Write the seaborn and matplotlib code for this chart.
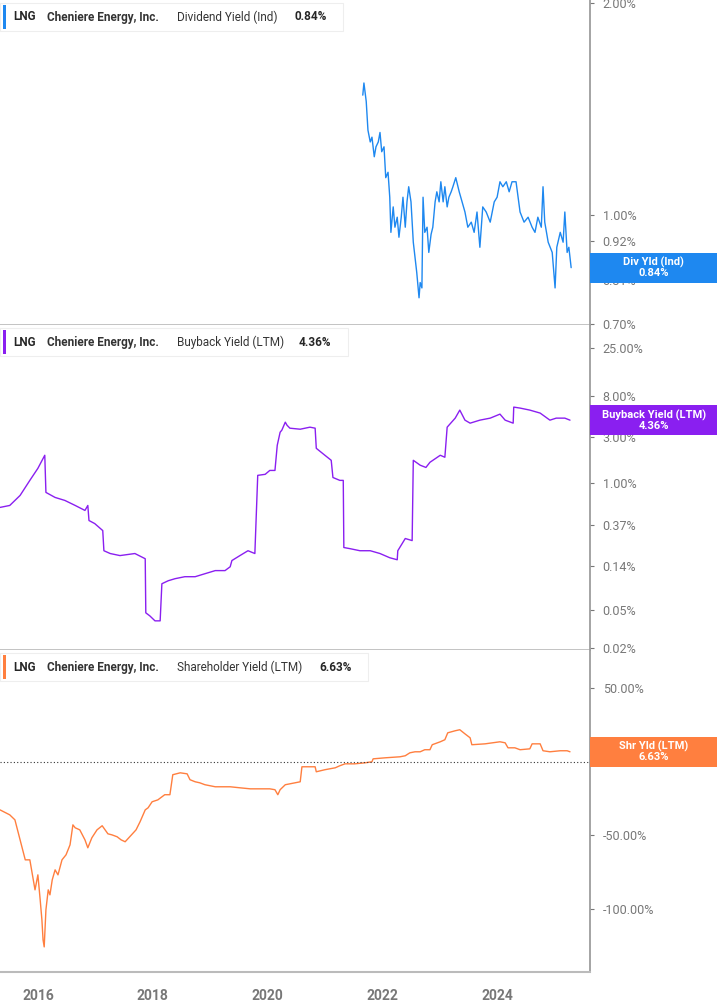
import numpy as np
import pandas as pd
import matplotlib
matplotlib.use("Agg")
import matplotlib.pyplot as plt
import seaborn as sns
from matplotlib.ticker import FixedLocator, NullLocator, FixedFormatter

sns.set_theme(style="white")
plt.rcParams["font.family"] = "Roboto"

# Dividend yield (indicated), % - fractional years
div_years = [2021.66, 2021.68, 2021.72, 2021.75, 2021.79, 2021.82, 2021.86, 2021.89, 2021.93, 2021.96,
             2021.99, 2022.03, 2022.06, 2022.10, 2022.13, 2022.15, 2022.19, 2022.22, 2022.26, 2022.29,
             2022.33, 2022.36, 2022.40, 2022.43, 2022.46, 2022.50, 2022.54, 2022.57, 2022.60, 2022.64,
             2022.66, 2022.69, 2022.71, 2022.74, 2022.78, 2022.81, 2022.85, 2022.88, 2022.92, 2022.95,
             2022.99, 2023.02, 2023.06, 2023.09, 2023.13, 2023.16, 2023.20, 2023.23, 2023.28, 2023.34,
             2023.39, 2023.44, 2023.49, 2023.55, 2023.60, 2023.65, 2023.70, 2023.75, 2023.81, 2023.88,
             2023.95, 2024.00, 2024.05, 2024.10, 2024.16, 2024.21, 2024.26, 2024.33, 2024.40, 2024.47,
             2024.54, 2024.61, 2024.66, 2024.71, 2024.77, 2024.80, 2024.83, 2024.89, 2024.96, 2025.01,
             2025.04, 2025.10, 2025.15, 2025.18, 2025.22, 2025.25, 2025.29]
div_vals = [1.48, 1.54, 1.45, 1.32, 1.27, 1.29, 1.21, 1.25, 1.27, 1.31,
            1.23, 1.25, 1.13, 1.15, 1.06, 0.945, 1.027, 0.961, 0.993, 0.930,
            0.993, 1.06, 0.961, 1.044, 1.097, 1.044, 0.915, 0.871, 0.829, 0.763,
            0.802, 0.788, 1.06, 0.945, 0.961, 0.885, 0.939, 0.961, 1.044, 1.079,
            1.044, 1.115, 1.044, 1.097, 1.027, 1.06, 1.079, 1.097, 1.13, 1.079,
            1.044, 1.01, 0.961, 0.977, 0.945, 1.01, 0.90, 1.027, 1.01, 0.977,
            1.044, 1.06, 1.115, 1.097, 1.115, 1.079, 1.115, 1.115, 1.01, 0.977,
            0.993, 0.961, 0.945, 0.993, 0.961, 1.097, 0.977, 0.915, 0.885, 0.788,
            0.90, 0.945, 0.915, 1.01, 0.885, 0.90, 0.842]

# Buyback yield (LTM), %
bb_years = [2015.34, 2015.51, 2015.69, 2015.86, 2016.00, 2016.12, 2016.14, 2016.30, 2016.47, 2016.65,
            2016.82, 2016.87, 2016.89, 2016.99, 2017.13, 2017.15, 2017.26, 2017.43, 2017.69, 2017.87,
            2017.88, 2017.95, 2018.04, 2018.13, 2018.16, 2018.27, 2018.39, 2018.56, 2018.74, 2018.91,
            2019.09, 2019.26, 2019.35, 2019.38, 2019.52, 2019.66, 2019.78, 2019.83, 2019.96, 2020.04,
            2020.13, 2020.17, 2020.22, 2020.25, 2020.31, 2020.34, 2020.39, 2020.57, 2020.74, 2020.83,
            2020.85, 2021.00, 2021.11, 2021.14, 2021.26, 2021.32, 2021.33, 2021.44, 2021.61, 2021.79,
            2021.96, 2022.13, 2022.26, 2022.27, 2022.40, 2022.52, 2022.54, 2022.66, 2022.76, 2022.83,
            2023.01, 2023.09, 2023.13, 2023.27, 2023.35, 2023.44, 2023.53, 2023.70, 2023.88, 2024.05,
            2024.14, 2024.28, 2024.29, 2024.40, 2024.57, 2024.75, 2024.92, 2025.03, 2025.18, 2025.27]
bb_vals = [0.565, 0.592, 0.751, 1.074, 1.43, 1.95, 0.807, 0.716, 0.667, 0.592,
           0.526, 0.592, 0.414, 0.385, 0.326, 0.202, 0.189, 0.180, 0.189, 0.167,
           0.0462, 0.0430, 0.0382, 0.0382, 0.0922, 0.099, 0.104, 0.109, 0.109, 0.117,
           0.126, 0.126, 0.138, 0.160, 0.180, 0.202, 0.189, 1.21, 1.24, 1.36,
           1.36, 2.47, 3.37, 3.54, 4.28, 3.98, 3.71, 3.62, 3.80, 3.71,
           2.30, 1.95, 1.73, 1.15, 1.074, 1.074, 0.218, 0.212, 0.202, 0.202,
           0.189, 0.171, 0.163, 0.202, 0.27, 0.257, 1.73, 1.54, 1.46, 1.65,
           1.95, 1.86, 3.80, 4.71, 5.70, 4.49, 4.18, 4.49, 4.71, 5.18,
           4.49, 4.18, 6.12, 5.98, 5.70, 5.31, 4.49, 4.71, 4.71, 4.49]

# Shareholder yield (LTM), %
sh_years = [2015.34, 2015.51, 2015.60, 2015.69, 2015.78, 2015.86, 2015.95, 2016.00, 2016.04, 2016.07,
            2016.09, 2016.11, 2016.14, 2016.18, 2016.21, 2016.25, 2016.30, 2016.35, 2016.42, 2016.49,
            2016.56, 2016.61, 2016.65, 2016.73, 2016.82, 2016.87, 2016.94, 2017.03, 2017.12, 2017.22,
            2017.29, 2017.38, 2017.45, 2017.52, 2017.60, 2017.71, 2017.78, 2017.87, 2017.92, 2017.99,
            2018.09, 2018.21, 2018.30, 2018.35, 2018.48, 2018.60, 2018.65, 2018.74, 2018.82, 2018.91,
            2019.00, 2019.09, 2019.17, 2019.35, 2019.52, 2019.70, 2019.87, 2020.04, 2020.13, 2020.18,
            2020.22, 2020.31, 2020.39, 2020.57, 2020.60, 2020.74, 2020.83, 2020.85, 2021.00, 2021.18,
            2021.26, 2021.35, 2021.52, 2021.70, 2021.82, 2021.84, 2022.05, 2022.31, 2022.40, 2022.48,
            2022.57, 2022.66, 2022.74, 2022.83, 2022.87, 2023.01, 2023.09, 2023.14, 2023.27, 2023.35,
            2023.44, 2023.53, 2023.56, 2023.79, 2024.05, 2024.14, 2024.19, 2024.31, 2024.40, 2024.57,
            2024.61, 2024.75, 2024.80, 2024.92, 2025.10, 2025.22, 2025.27]
sh_vals = [-32.7, -36.1, -39.5, -53.1, -66.7, -66.7, -87.1, -76.9, -93.9, -107.5,
           -121.1, -125.9, -100.7, -87.1, -90.5, -80.3, -73.5, -76.9, -66.7, -63.3,
           -56.5, -42.9, -44.9, -46.3, -53.1, -58.5, -51.7, -46.3, -43.5, -49.0,
           -49.7, -51.0, -53.1, -54.4, -51.0, -46.3, -40.8, -32.7, -31.3, -27.2,
           -25.9, -22.4, -22.4, -8.8, -7.5, -8.2, -12.2, -13.6, -14.3, -15.6,
           -16.3, -17.0, -17.0, -17.0, -17.7, -18.4, -18.4, -18.4, -19.0, -22.4,
           -19.0, -15.6, -15.0, -13.6, -3.4, -3.4, -3.4, -6.8, -5.4, -4.1,
           -2.7, -1.4, -1.4, -0.7, 0.0, 2.0, 2.7, 3.4, 4.1, 6.1,
           6.8, 6.8, 8.2, 8.2, 11.6, 13.6, 15.0, 19.7, 21.1, 21.8,
           19.0, 16.3, 11.6, 12.2, 13.6, 12.9, 9.5, 9.5, 8.2, 8.8,
           12.2, 12.2, 7.5, 6.8, 7.5, 7.5, 6.8]

year_ticks = [2016, 2018, 2020, 2022, 2024]
grey = "#777777"

panels = [
    dict(x=div_years, y=div_vals, color="#1e88f0", log=True, ylim=(0.698, 2.02),
         ticks=[2.0, 1.0, 0.92, 0.81, 0.70], labels=["2.00%", "1.00%", "0.92%", "0.81%", "0.70%"],
         title="Dividend Yield (Ind)", last="0.84%", badge="Div Yld (Ind)", vx=294, bx=343),
    dict(x=bb_years, y=bb_vals, color="#8a1ff0", log=True, ylim=(0.0191, 43.0),
         ticks=[25, 8, 3, 1, 0.37, 0.14, 0.05, 0.02],
         labels=["25.00%", "8.00%", "3.00%", "1.00%", "0.37%", "0.14%", "0.05%", "0.02%"],
         title="Buyback Yield (LTM)", last="4.36%", badge="Buyback Yield (LTM)", vx=299, bx=348),
    dict(x=sh_years, y=sh_vals, color="#ff7f3f", log=False, ylim=(-143, 76),
         ticks=[50, 0, -50, -100], labels=["50.00%", "0.00%", "-50.00%", "-100.00%"],
         title="Shareholder Yield (LTM)", last="6.63%", badge="Shr Yld (LTM)", vx=319, bx=368),
]

fig = plt.figure(figsize=(7.17, 10.05), dpi=100)
boxes = [(0.6766, 0.3234), (0.3532, 0.3234), (0.0328, 0.3204)]
xlim = (2015.34, 2025.62)
AW = 590.0  # axes width in px

for p, (bottom, h) in zip(panels, boxes):
    ax = fig.add_axes([0.0, bottom, 0.823, h])
    df = pd.DataFrame({"year": p["x"], "val": p["y"]})
    sns.lineplot(data=df, x="year", y="val", ax=ax, color=p["color"], linewidth=1.0)
    if p["log"]:
        ax.set_yscale("log")
    ax.set_ylim(*p["ylim"])
    ax.set_xlim(*xlim)
    ax.yaxis.set_minor_locator(NullLocator())
    ax.yaxis.set_major_locator(FixedLocator(p["ticks"]))
    ax.yaxis.set_major_formatter(FixedFormatter(p["labels"]))
    ax.yaxis.tick_right()
    ax.tick_params(axis="y", colors=grey, labelsize=9, length=3, width=0.8, direction="out", pad=6)
    ax.set_xlabel("")
    ax.set_ylabel("")
    for s in ["top", "left"]:
        ax.spines[s].set_visible(False)
    ax.spines["right"].set_color("#999999")
    ax.spines["bottom"].set_color("#bbbbbb")
    ax.set_xticks(year_ticks)
    if p is panels[-1]:
        ax.set_xticklabels([str(y) for y in year_ticks], fontweight="bold", color=grey, fontsize=10)
        ax.tick_params(axis="x", length=4, color="#bbbbbb", pad=8)
        ax.spines["bottom"].set_linewidth(1.5)
        ax.axhline(0, color="#333333", linestyle=(0, (1, 2)), linewidth=0.8)
    else:
        ax.set_xticklabels([])
        ax.tick_params(axis="x", length=0)

    # legend box top-left
    ly = 1 - 17.0 / (h * 1005)
    ax.text(13 / AW, ly, "LNG", transform=ax.transAxes, fontsize=8.5, fontweight="bold", va="center")
    ax.text(47 / AW, ly, "Cheniere Energy, Inc.", transform=ax.transAxes, fontsize=8.5,
            fontweight="bold", color="#333333", va="center")
    ax.text(177 / AW, ly, p["title"], transform=ax.transAxes, fontsize=8.5, color="#333333", va="center")
    ax.text(p["vx"] / AW, ly, p["last"], transform=ax.transAxes, fontsize=8.5, fontweight="bold", va="center")
    bh = 28.0 / (h * 1005)
    ax.add_patch(plt.Rectangle((0.0, ly - bh / 2), p["bx"] / AW, bh, transform=ax.transAxes,
                               facecolor="white", edgecolor="#eeeeee", linewidth=0.8, zorder=0.5))
    ax.add_patch(plt.Rectangle((3 / AW, ly - bh / 2 + 0.006), 3 / AW, bh - 0.012, transform=ax.transAxes,
                               facecolor=p["color"], edgecolor="none"))

    # value badge on right
    yv = p["y"][-1]
    ya = ax.transLimits.transform(ax.transScale.transform((xlim[0], yv)))[1]
    bgh = 30.0 / (h * 1005)
    ax.add_patch(plt.Rectangle((1.0, ya - bgh / 2), 127 / AW, bgh, transform=ax.transAxes,
                               facecolor=p["color"], edgecolor="none", clip_on=False, zorder=3))
    ax.text(1.0 + 63.5 / AW, ya, f"{p['badge']}\n{p['last']}", transform=ax.transAxes, ha="center",
            va="center", fontsize=8, fontweight="bold", color="white", linespacing=1.0,
            clip_on=False, zorder=4)

fig.savefig("out.png", dpi=100)
